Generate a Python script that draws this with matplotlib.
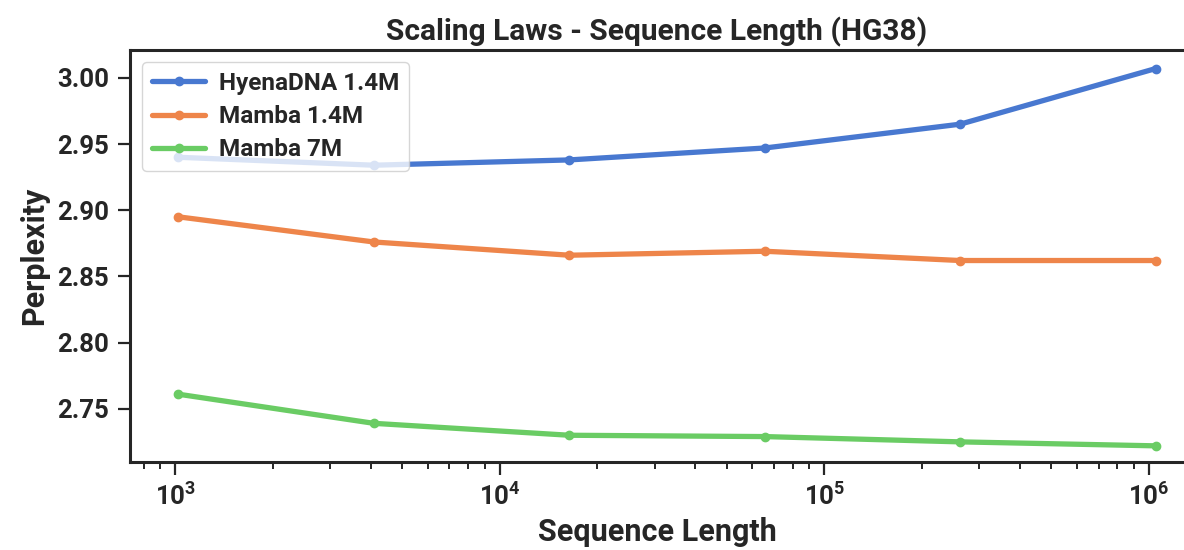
import numpy as np
import matplotlib
matplotlib.use("Agg")
import matplotlib.pyplot as plt
import matplotlib.ticker as mticker
import seaborn as sns

# ── Daten ──────────────────────────────────────────────────────────────────────
seq_len = [1024, 4096, 16384, 65536, 262144, 1048576]
hyena_14m = [2.940, 2.934, 2.938, 2.947, 2.965, 3.007]
mamba_14m = [2.895, 2.876, 2.866, 2.869, 2.862, 2.862]
mamba_7m = [2.761, 2.739, 2.730, 2.729, 2.725, 2.722]
series_labels = ["HyenaDNA 1.4M", "Mamba 1.4M", "Mamba 7M"]

sns.set_style("ticks")
plt.rcParams["font.family"] = ["Roboto", "DejaVu Sans"]
plt.rcParams["font.weight"] = "bold"
TXT = "#262626"

colors = sns.color_palette("muted")

fig = plt.figure(figsize=(11.84, 5.5), dpi=100)
ax = fig.add_axes([0.1098, 0.1605, 0.8902, 0.7485])

for ys, lab, col in zip([hyena_14m, mamba_14m, mamba_7m], series_labels, colors):
    ax.plot(seq_len, ys, color=col, lw=3.8, marker="o", ms=6, label=lab)

ax.set_xscale("log")
ax.set_xlim(10**2.861, 10**6.108)
ax.set_ylim(2.710, 3.021)
ax.yaxis.set_major_locator(mticker.MultipleLocator(0.05))
ax.yaxis.set_major_formatter(mticker.FormatStrFormatter("%.2f"))

for s in ["left", "bottom", "top"]:
    ax.spines[s].set_linewidth(2.2)
    ax.spines[s].set_color(TXT)
ax.spines["right"].set_visible(False)

ax.tick_params(axis="both", which="major", length=9, width=1.6, color=TXT,
               labelsize=18.5, labelcolor=TXT, pad=6)
ax.tick_params(axis="x", which="minor", length=5, width=1.4, color=TXT)
for t in ax.get_xticklabels() + ax.get_yticklabels():
    t.set_fontweight("bold")

ax.set_xlabel("Sequence Length", fontsize=22, fontweight="bold", color=TXT, labelpad=5)
ax.set_ylabel("Perplexity", fontsize=22, fontweight="bold", color=TXT, labelpad=6)
ax.set_title("Scaling Laws - Sequence Length (HG38)", fontsize=21.5, fontweight="bold",
             color=TXT, pad=7)

leg = ax.legend(loc="upper left", frameon=True, handlelength=2.2,
                borderaxespad=0.5, labelspacing=0.42, handletextpad=0.55,
                prop={"weight": "bold", "size": 17.5})
leg.get_frame().set_alpha(0.8)

fig.savefig("out.png", dpi=100)
